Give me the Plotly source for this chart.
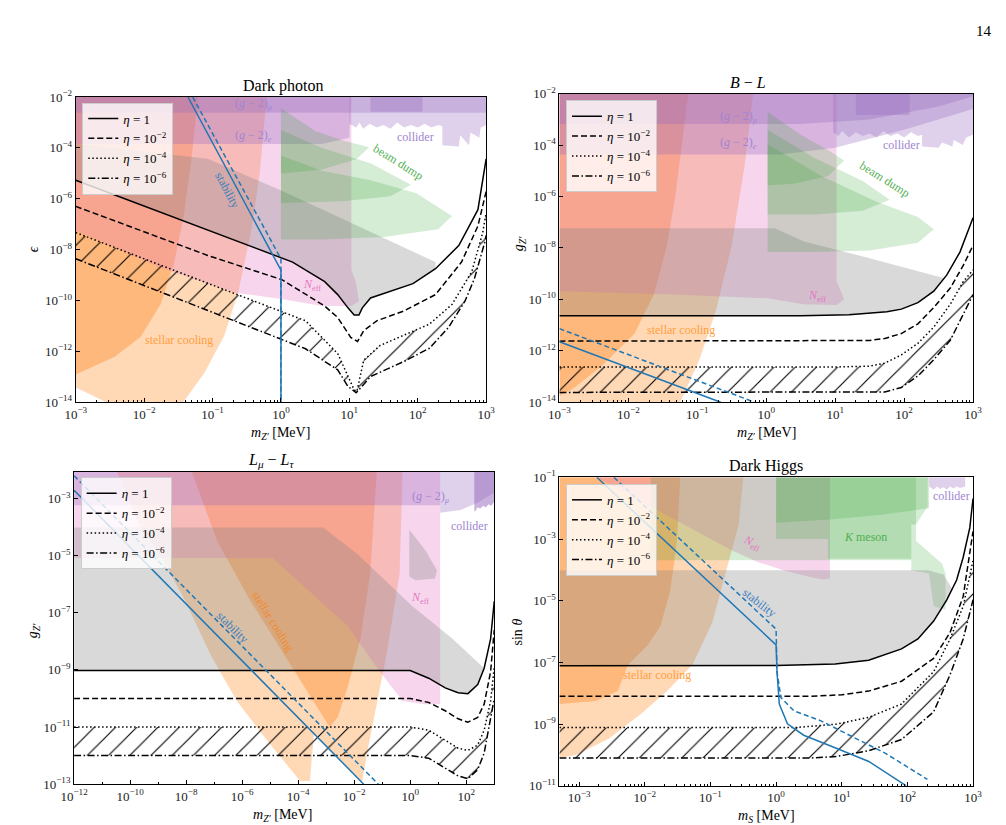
import numpy as np
import plotly.graph_objects as go

W, H = 1006, 825
SERIF = "Liberation Serif"

# ---------------------------------------------------------------------------
# data, in log10 units: (log10 m [MeV], log10 coupling)
# ---------------------------------------------------------------------------
eta_names = ["<i>η</i> = 1", "<i>η</i> = 10<sup>−2</sup>",
             "<i>η</i> = 10<sup>−4</sup>", "<i>η</i> = 10<sup>−6</sup>"]

# --- Dark photon ---
dp_eta1 = [(-3, -5.27), (-0.12, -8.17), (0.17, -8.49), (0.64, -9.26), (0.83, -9.77),
           (0.98, -10.29), (1.07, -10.57), (1.14, -10.57), (1.19, -10.29), (1.31, -9.90),
           (1.6, -9.64), (1.93, -9.34), (2.26, -8.75), (2.6, -7.84), (2.88, -6.43), (3.0, -4.43)]
dp_eta2 = [(-3, -6.30), (-1.07, -8.23), (0.02, -9.19), (0.36, -9.77), (0.64, -10.22),
           (0.83, -10.67), (1.02, -11.45), (1.12, -11.61), (1.21, -11.19), (1.4, -10.80),
           (1.79, -10.42), (2.26, -9.77), (2.64, -8.49), (2.88, -7.07), (3.0, -5.71)]
dp_eta4 = [(-3, -7.33), (0.36, -10.80), (0.83, -12.09), (0.98, -12.99), (1.07, -13.51),
           (1.11, -13.58), (1.21, -12.35), (1.45, -11.77), (1.79, -11.38), (2.17, -10.93),
           (2.5, -10.16), (2.79, -8.87), (2.95, -7.33), (3.0, -6.56)]
dp_eta6 = [(-3, -8.36), (0.36, -11.90), (0.83, -12.73), (0.98, -13.38), (1.1, -13.63),
           (1.17, -13.43), (1.31, -12.99), (1.5, -12.76), (1.79, -12.41), (2.17, -11.88),
           (2.45, -11.06), (2.69, -10.03), (2.83, -9.13), (2.98, -7.71), (3.0, -7.44)]
dp_stab = [(-1.36, -2), (0.0, -8.81), (0.0, -14)]
dp_stab_d = [(-1.29, -2), (0.0, -8.36), (0.0, -14)]
dp_peach = [(-3, -2), (-3, -13.42), (-2.55, -14), (-1.43, -14), (-1.12, -12.85), (-0.83, -11.4),
            (-0.62, -9.64), (-0.43, -7.2), (-0.31, -5.0), (-0.21, -2)]
dp_orange = [(-3, -2), (-3, -12.91), (-2.43, -12.21), (-2.05, -11.43), (-1.76, -10.15),
             (-1.57, -8.61), (-1.43, -6.81), (-1.31, -4.49), (-1.21, -2)]
dp_neff = [(-3, -2), (-3, -7.25), (-1.79, -8.68), (-0.67, -9.7), (0.03, -9.95), (0.6, -10.22),
           (1.03, -10.22), (1.14, -10.03), (1.1, -9.3), (1.03, -8.8), (1.03, -2)]
dp_gray = [(-3, -3.85), (-1.07, -4.43), (0.03, -5.71), (2.26, -8.49), (2.26, -8.75),
           (1.93, -9.34), (1.6, -9.64), (1.31, -9.90), (1.19, -10.29), (1.14, -10.57),
           (1.07, -10.57), (0.98, -10.29), (0.83, -9.77), (0.64, -9.26), (0.17, -8.49),
           (-0.12, -8.17), (-3, -5.27)]
dp_gm2mu = [(-3, -2), (-3, -2.62), (3, -2.62), (3, -2)]
dp_gm2e = [(-3, -2), (-3, -3.85), (0.6, -3.85), (1.0, -3.6), (1.02, -2)]
dp_bd1 = [(0, -2.44), (0.5, -3.34), (0.93, -3.73), (1.29, -3.98), (1.1, -4.45), (0.6, -4.85), (0, -5.01)]
dp_bd2 = [(0, -3.3), (0.6, -4.0), (1.31, -4.6), (1.9, -5.45), (1.6, -5.9), (0.9, -6.1), (0, -6.17)]
dp_bd3 = [(0, -4.3), (0.6, -4.9), (1.31, -5.27), (1.98, -5.78), (2.5, -6.68), (2.3, -7.2),
          (1.5, -7.5), (0.6, -7.6), (0, -7.6)]
dp_col = [(1.0, -2), (1.0, -3.05), (1.1, -3.2), (1.15, -3.0), (1.2, -3.25), (1.3, -3.05),
          (1.4, -3.2), (1.5, -3.1), (1.6, -3.25), (1.7, -3.0), (1.8, -3.2), (1.9, -3.1),
          (2.0, -3.2), (2.1, -3.05), (2.2, -3.2), (2.3, -3.1), (2.36, -3.15), (2.36, -3.9),
          (2.6, -3.95), (2.62, -3.5), (2.75, -3.9), (2.77, -3.4), (2.9, -3.6), (2.92, -3.2),
          (3.0, -3.1), (3.0, -2)]
dp_col_dk = [(1.31, -2), (1.31, -2.58), (2.07, -2.58), (2.07, -2)]

# --- B - L ---
bl_eta1 = [(-3, -10.635), (0.5, -10.635), (1.2, -10.6), (1.5, -10.55), (1.75, -10.48),
           (1.96, -10.38), (2.2, -10.13), (2.43, -9.68), (2.62, -9.05), (2.81, -8.16),
           (2.9, -7.52), (3.0, -6.83)]
bl_eta2 = [(-3, -11.625), (0.8, -11.625), (1.5, -11.6), (1.72, -11.52), (1.96, -11.33),
           (2.2, -10.95), (2.43, -10.32), (2.67, -9.56), (2.86, -8.67), (3.0, -7.9)]
bl_eta4 = [(-3, -12.63), (1.0, -12.63), (1.5, -12.6), (1.72, -12.48), (1.96, -12.16),
           (2.2, -11.71), (2.43, -11.08), (2.67, -10.19), (2.86, -9.3), (3.0, -8.86)]
bl_eta6 = [(-3, -13.62), (1.2, -13.62), (1.72, -13.6), (1.96, -13.43), (2.2, -12.98),
           (2.43, -12.35), (2.67, -11.59), (2.86, -10.57), (3.0, -9.81)]
bl_stab = [(-3, -11.65), (-0.66, -14)]
bl_stab_d = [(-3, -11.14), (-0.17, -14)]
bl_peach = [(-3, -2), (-3, -14), (-1.25, -14), (-0.97, -12.35), (-0.73, -10.44),
            (-0.5, -7.9), (-0.31, -4.73), (-0.19, -2)]
bl_orange = [(-3, -2), (-1.13, -2), (-1.23, -4.1), (-1.32, -6.0), (-1.44, -7.9), (-1.63, -9.81),
             (-1.91, -11.33), (-2.39, -12.6), (-2.81, -13.49), (-3, -13.75)]
bl_neff = [(-3, -2), (-3, -9.68), (-1.35, -9.81), (0.02, -9.96), (0.54, -10.19), (1.02, -10.22),
           (1.13, -10.0), (1.02, -9.3), (1.02, -2)]
bl_gray = [(-3, -7.23), (0.12, -7.23), (0.55, -7.75), (1.5, -8.4), (2.57, -9.17), (2.43, -9.68),
           (2.2, -10.13), (1.96, -10.38), (1.75, -10.48), (1.5, -10.55), (1.2, -10.6),
           (0.5, -10.635), (-3, -10.635)]
bl_gm2mu = [(-3, -2), (-3, -3.18), (0.5, -3.18), (1.5, -3.0), (2.5, -2.5), (3, -2.1), (3, -2)]
bl_gm2e = [(-3, -2), (-3, -4.37), (0.2, -4.37), (1.0, -4.1), (2.0, -3.4), (3, -2.6), (3, -2)]
bl_bd1 = [(0.02, -2.7), (0.5, -3.6), (0.9, -4.2), (1.13, -4.6), (0.9, -5.2), (0.4, -5.5), (0.02, -5.56)]
bl_bd2 = [(0.02, -3.4), (0.7, -4.5), (1.4, -5.4), (1.79, -6.13), (1.4, -6.55), (0.7, -6.7), (0.02, -6.7)]
bl_bd3 = [(0.02, -3.97), (0.8, -5.2), (1.6, -6.2), (2.2, -6.8), (2.43, -7.27), (2.2, -7.8),
          (1.5, -8.1), (0.7, -8.16), (0.02, -8.16)]
bl_col = [(0.97, -2), (0.97, -3.5), (1.05, -3.65), (1.1, -3.45), (1.2, -3.7), (1.3, -3.5),
          (1.4, -3.65), (1.5, -3.55), (1.6, -3.7), (1.7, -3.45), (1.8, -3.65), (1.9, -3.55),
          (2.0, -3.7), (2.1, -3.5), (2.2, -3.65), (2.26, -3.6), (2.26, -4.05), (2.5, -4.1),
          (2.55, -3.9), (2.7, -4.05), (2.72, -3.8), (2.85, -4.0), (2.9, -3.7), (3.0, -3.6), (3.0, -2)]
bl_col_dk = [(1.30, -2), (1.30, -2.83), (2.08, -2.83), (2.08, -2)]

# --- L_mu - L_tau ---
lm_eta1 = [(-12, -9.02), (0, -9.02), (0.66, -9.29), (1.25, -9.63), (1.71, -9.80), (2.06, -9.83),
           (2.41, -9.51), (2.64, -8.94), (2.87, -7.91), (3.0, -6.6)]
lm_eta2 = [(-12, -10.0), (0, -10.0), (0.66, -10.14), (1.25, -10.43), (1.71, -10.71),
           (2.06, -10.83), (2.41, -10.66), (2.64, -10.2), (2.87, -9.06), (3.0, -7.6)]
lm_eta4 = [(-12, -11.0), (0, -11.0), (0.66, -11.11), (1.25, -11.46), (1.71, -11.74),
           (2.06, -11.82), (2.41, -11.63), (2.64, -11.11), (2.87, -10.09), (3.0, -8.9)]
lm_eta6 = [(-12, -12.0), (0, -12.0), (0.66, -12.09), (1.25, -12.43), (1.71, -12.71),
           (2.06, -12.81), (2.41, -12.49), (2.64, -11.91), (2.87, -10.77), (3.0, -10.0)]
lm_stab = [(-12, -2.71), (-1.66, -13)]
lm_stab_d = [(-12, -2.2), (-1.14, -13)]
lm_peach = [(-10.49, -2), (-9.68, -3.91), (-8.86, -5.08), (-8.05, -6.54), (-7.12, -8.49),
            (-6.19, -10.09), (-5.03, -11.57), (-3.93, -12.89), (-3.58, -12.89), (-3.44, -11.23),
            (-3.34, -11.34), (-2.47, -12.2), (-1.72, -12.94), (-1.54, -11.91), (-1.31, -10.77),
            (-0.85, -8.49), (-0.38, -5.63), (-0.27, -2)]
lm_orange = [(-7.82, -2), (-6.89, -4.49), (-5.73, -6.54), (-4.56, -8.37), (-3.40, -10.2),
             (-2.88, -11.0), (-2.59, -10.66), (-2.24, -9.63), (-1.78, -7.91), (-1.43, -5.63),
             (-1.19, -2)]
lm_neff = [(-12, -2), (-12, -5.08), (-4.91, -5.08), (-2.24, -7.46), (-1.08, -9.06),
           (-0.27, -10.09), (0.5, -10.2), (1.07, -10.2), (1.07, -2)]
lm_gray = [(-12, -4.01), (-3.11, -4.01), (-1.89, -4.94), (0.08, -6.77), (1.5, -7.9), (2.64, -8.94),
           (2.41, -9.51), (2.06, -9.83), (1.71, -9.80), (1.25, -9.63), (0.66, -9.29), (0, -9.02),
           (-12, -9.02)]
lm_gray_lobe = [(-0.03, -4.09), (0.55, -4.83), (0.95, -5.51), (0.89, -5.80), (0.2, -5.86), (-0.03, -5.74)]
lm_gm2mu = [(-12, -2), (-12, -3.23), (1.07, -3.23), (1.07, -3.5), (1.8, -3.4), (2.4, -3.15),
            (3, -2.8), (3, -2)]
lm_col = [(2.29, -2), (2.29, -3.46), (2.35, -3.4), (2.4, -3.3), (2.5, -3.35), (2.6, -3.25),
          (2.7, -3.3), (2.8, -3.2), (2.9, -3.25), (3.0, -3.1), (3.0, -2)]

# --- Dark Higgs ---
dh_eta1 = [(-3.3, -7.11), (0, -7.1), (0.9, -7.05), (1.41, -6.93), (1.91, -6.56), (2.16, -6.24),
           (2.4, -5.66), (2.6, -4.97), (2.75, -4.33), (2.85, -3.59), (2.95, -2.64), (3.0, -1.69)]
dh_eta2 = [(-3.3, -8.1), (0.5, -8.1), (1.0, -8.05), (1.41, -7.93), (1.91, -7.61), (2.4, -6.87),
           (2.65, -6.03), (2.85, -4.86), (3.0, -2.75)]
dh_eta4 = [(-3.3, -9.11), (0.3, -9.11), (0.92, -9.0), (1.41, -8.78), (1.91, -8.35), (2.4, -7.3),
           (2.65, -6.24), (2.85, -5.18), (3.0, -3.7)]
dh_eta6 = [(-3.3, -10.1), (0.5, -10.1), (0.92, -10.05), (1.41, -9.86), (1.91, -9.5), (2.4, -8.6),
           (2.65, -7.4), (2.85, -6.24), (3.0, -4.97)]
dh_stab = [(-2.73, -1), (0.0, -6.43), (0.014, -7.30), (0.049, -8.35), (0.173, -8.99),
           (0.421, -9.36), (0.917, -9.78), (1.412, -10.21), (1.983, -11.0)]
dh_stab_d = [(-2.47, -1), (0.0, -5.92), (0.014, -7.30), (0.074, -8.14), (0.272, -8.57),
             (0.669, -8.88), (1.165, -9.41), (1.660, -9.94), (2.305, -10.79)]
dh_peach = [(-3.3, -1), (-0.5, -1), (-0.57, -2.53), (-0.77, -4.12), (-0.97, -5.7), (-1.27, -7.07),
            (-1.66, -7.93), (-2.06, -8.67), (-2.55, -9.47), (-3.05, -10.0), (-3.3, -10.1)]
dh_orange = [(-3.3, -1), (-1.46, -1), (-1.51, -3.06), (-1.61, -4.65), (-1.76, -5.82), (-1.96, -6.45),
             (-2.26, -7.09), (-2.41, -7.93), (-2.75, -8.25), (-3.3, -8.35)]
dh_neff = [(-2.74, -1), (-1.36, -2.58), (-0.67, -3.37), (-0.27, -3.75), (0.12, -4.02),
           (0.52, -4.23), (0.72, -4.31), (0.82, -4.28), (0.82, -1)]
dh_gray = [(-3.3, -4.01), (2.31, -4.01), (2.55, -4.15), (2.68, -4.6), (2.6, -4.97), (2.4, -5.66),
           (2.16, -6.24), (1.91, -6.56), (1.41, -6.93), (0.9, -7.05), (0, -7.1), (-3.3, -7.11)]
dh_green = [(-1.91, -1), (2.31, -1), (2.31, -1.95), (2.13, -2.53), (2.13, -3.06), (2.33, -3.43),
            (2.53, -3.8), (2.58, -4.12), (2.58, -5.29), (2.4, -5.18), (2.33, -4.12),
            (2.06, -4.02), (2.06, -3.69), (-1.91, -3.69)]
dh_k1 = [(0, -1), (2.33, -1), (2.33, -2.0), (1.61, -2.21), (0.82, -2.37), (0, -2.47)]
dh_k2 = [(0.79, -1), (2.13, -1), (2.13, -2.53), (2.06, -2.53), (2.06, -3.64), (0.79, -3.64)]
dh_k3 = [(0, -1), (0.79, -1), (0.79, -3.0), (0, -3.0)]
dh_col = [(2.33, -1), (2.33, -1.3), (2.4, -1.4), (2.45, -1.3), (2.5, -1.38), (2.55, -1.32),
          (2.6, -1.4), (2.65, -1.3), (2.7, -1.36), (2.75, -1.3), (2.8, -1.35), (2.88, -1.3), (2.88, -1)]

# tick exponents
dp_xticks = [-3, -2, -1, 0, 1, 2, 3]
dp_yticks = [-14, -12, -10, -8, -6, -4, -2]
lm_xticks = [-12, -10, -8, -6, -4, -2, 0, 2]
lm_yticks = [-13, -11, -9, -7, -5, -3]
dh_xticks = [-3, -2, -1, 0, 1, 2, 3]
dh_yticks = [-11, -9, -7, -5, -3, -1]

# ---------------------------------------------------------------------------
ORANGE = "rgba(255,127,14,0.30)"
ORANGE_DK = "rgba(255,127,14,0.35)"
PINK = "rgba(227,119,194,0.30)"
GRAY = "rgba(128,128,128,0.30)"
PURPLE = "rgba(148,103,189,0.30)"
GREEN = "rgba(44,160,44,0.20)"
BLUE = "#1f77b4"
DASHES = ["solid", "6px,3px", "1.5px,2.5px", "7px,2.5px,1.5px,2.5px"]

XA = ["x", "x2", "x3", "x4"]
YA = ["y", "y2", "y3", "y4"]
LEG = ["legend", "legend2", "legend3", "legend4"]

fig = go.Figure()


def pts(p):
    a = np.array(p, dtype=float)
    return 10 ** a[:, 0], 10 ** a[:, 1]


def region(p, color, n):
    x, y = pts(p)
    fig.add_trace(go.Scatter(x=x, y=y, mode="lines", fill="toself", fillcolor=color,
                             line=dict(width=0), hoverinfo="skip", showlegend=False,
                             xaxis=XA[n], yaxis=YA[n]))


def curve(p, n, color="black", dash="solid", width=1.5, name=None):
    x, y = pts(p)
    fig.add_trace(go.Scatter(x=x, y=y, mode="lines",
                             line=dict(color=color, dash=dash, width=width),
                             name=name, showlegend=name is not None, legend=LEG[n],
                             hoverinfo="skip", xaxis=XA[n], yaxis=YA[n]))


def hatch(upper, lower, n):
    x1, y1 = pts(upper)
    x2, y2 = pts(lower)
    fig.add_trace(go.Scatter(x=np.r_[x1, x2[::-1]], y=np.r_[y1, y2[::-1]], mode="lines",
                             fill="toself", fillcolor="black",
                             fillpattern=dict(shape="/", fgcolor="black", fgopacity=1,
                                              bgcolor="rgba(255,255,255,0)", size=15,
                                              solidity=0.075),
                             line=dict(width=0), hoverinfo="skip", showlegend=False,
                             xaxis=XA[n], yaxis=YA[n]))


def panel(n, peach, orange, neff, gray, etas, stab, stab_d, extra_under, extra_over):
    region(peach, ORANGE, n)
    region(orange, ORANGE_DK, n)
    region(neff, PINK, n)
    for p, c in extra_under:
        region(p, c, n)
    region(gray, GRAY, n)
    for p, c in extra_over:
        region(p, c, n)
    hatch(etas[2], etas[3], n)
    for i, e in enumerate(etas):
        curve(e, n, dash=DASHES[i], name=eta_names[i])
    curve(stab, n, color=BLUE, width=1.5)
    curve(stab_d, n, color=BLUE, dash="5px,3px", width=1.5)


panel(0, dp_peach, dp_orange, dp_neff, dp_gray, [dp_eta1, dp_eta2, dp_eta4, dp_eta6],
      dp_stab, dp_stab_d, [],
      [(dp_gm2mu, PURPLE), (dp_gm2e, PURPLE), (dp_bd3, GREEN), (dp_bd2, GREEN),
       (dp_bd1, GREEN), (dp_col, PURPLE), (dp_col_dk, PURPLE)])
panel(1, bl_peach, bl_orange, bl_neff, bl_gray, [bl_eta1, bl_eta2, bl_eta4, bl_eta6],
      bl_stab, bl_stab_d, [],
      [(bl_gm2mu, PURPLE), (bl_gm2e, PURPLE), (bl_bd3, GREEN), (bl_bd2, GREEN),
       (bl_bd1, GREEN), (bl_col, PURPLE), (bl_col_dk, PURPLE)])
panel(2, lm_peach, lm_orange, lm_neff, lm_gray, [lm_eta1, lm_eta2, lm_eta4, lm_eta6],
      lm_stab, lm_stab_d, [],
      [(lm_gray_lobe, GRAY), (lm_gm2mu, PURPLE), (lm_col, PURPLE), (lm_col, PURPLE)])
panel(3, dh_peach, dh_orange, dh_neff, dh_gray, [dh_eta1, dh_eta2, dh_eta4, dh_eta6],
      dh_stab, dh_stab_d, [(dh_green, GREEN)],
      [(dh_k3, GREEN), (dh_k1, GREEN), (dh_k2, GREEN), (dh_col, PURPLE)])


def tick_text(e):
    return "10<sup>" + ("−" if e < 0 else "") + str(abs(e)) + "</sup>"


def axis(dom, rng, major, minor, anchor):
    return dict(type="log", domain=dom, range=rng, anchor=anchor,
                tickmode="array", tickvals=[10.0 ** e for e in major],
                ticktext=[tick_text(e) for e in major],
                ticks="inside", ticklen=4, tickwidth=1, tickcolor="black",
                minor=dict(tickmode="array", tickvals=minor, ticks="inside", ticklen=2,
                           tickwidth=0.8, tickcolor="black", showgrid=False),
                showline=True, linecolor="black", linewidth=1, mirror=True,
                showgrid=False, zeroline=False,
                tickfont=dict(family=SERIF, size=13, color="#222"))


def minors(lo, hi):
    return [k * 10.0 ** e for e in range(lo, hi) for k in range(2, 10)]


def xd(a, b):
    return [a / W, b / W]


def yd(top, bottom):
    return [1 - bottom / H, 1 - top / H]


legend_style = dict(bgcolor="rgba(255,255,255,0.8)", bordercolor="#cccccc", borderwidth=1,
                    font=dict(family=SERIF, size=13, color="black"), xanchor="left",
                    yanchor="top", tracegroupgap=0, itemwidth=30)

fig.update_layout(
    width=W, height=H, margin=dict(l=0, r=0, t=0, b=0),
    paper_bgcolor="white", plot_bgcolor="white",
    xaxis=axis(xd(55, 475), [-3, 3], dp_xticks, minors(-3, 3), "y"),
    yaxis=axis(yd(81.7, 393.3), [-14, -2], dp_yticks, [], "x"),
    xaxis2=axis(xd(550, 973.3), [-3, 3], dp_xticks, minors(-3, 3), "y2"),
    yaxis2=axis(yd(78.3, 393.3), [-14, -2], dp_yticks, [], "x2"),
    xaxis3=axis(xd(53.3, 483.3), [-12, 3], lm_xticks, [10.0 ** e for e in range(-11, 3, 2)], "y3"),
    yaxis3=axis(yd(464.3, 783.3), [-13, -2.06], lm_yticks, [], "x3"),
    xaxis4=axis(xd(550, 973.3), [-3.3, 3], dh_xticks, minors(-4, 3), "y4"),
    yaxis4=axis(yd(470, 785), [-11, -1], dh_yticks, [], "x4"),
    legend=dict(x=61.7 / W, y=1 - 87.3 / H, **legend_style),
    legend2=dict(x=556.7 / W, y=1 - 85 / H, **legend_style),
    legend3=dict(x=60 / W, y=1 - 470 / H, **legend_style),
    legend4=dict(x=556.7 / W, y=1 - 476.7 / H, **legend_style),
)


def label(text, px, py, color="black", angle=0, size=12):
    fig.add_annotation(text=text, x=px / W, y=1 - py / H, xref="paper", yref="paper",
                       showarrow=False, textangle=angle, xanchor="center", yanchor="middle",
                       font=dict(family=SERIF, size=size, color=color))


C_PUR = "#a184d2"
C_GRN = "#4fb04f"
C_PNK = "#e377c2"
C_ORG = "#ff9f40"
C_BLU = "#3a80bd"

# Dark photon
label("(<i>g</i> − 2)<sub><i>μ</i></sub>", 236.7, 89.3, C_PUR)
label("(<i>g</i> − 2)<sub><i>e</i></sub>", 236.7, 121, C_PUR)
label("collider", 402.3, 122.3, C_PUR)
label("beam dump", 385, 148.3, C_GRN, 32)
label("<i>N</i><sub>eff</sub>", 296.7, 273.3, C_PNK)
label("stellar cooling", 161, 330, C_ORG)
label("stability", 210, 176.7, C_BLU, 62)
# B - L
label("(<i>g</i> − 2)<sub><i>μ</i></sub>", 733.3, 101.7, C_PUR)
label("(<i>g</i> − 2)<sub><i>e</i></sub>", 733.3, 128.3, C_PUR)
label("collider", 900, 131, C_PUR)
label("beam dump", 882.7, 165, C_GRN, 32)
label("<i>N</i><sub>eff</sub>", 814, 285, C_PNK)
label("stellar cooling", 674.3, 319.3, C_ORG)
# L_mu - L_tau
label("(<i>g</i> − 2)<sub><i>μ</i></sub>", 418.3, 490, C_PUR)
label("collider", 458.3, 519.3, C_PUR)
label("<i>N</i><sub>eff</sub>", 407.3, 593.3, C_PNK)
label("stellar cooling", 256.7, 616.7, "#f08a30", 58)
label("stability", 215, 623.3, C_BLU, 45)
# Dark Higgs
label("collider", 951.7, 489, C_PUR)
label("<i>K</i> meson", 863.3, 530.7, C_GRN)
label("<i>N</i><sub>eff</sub>", 746.7, 536.7, C_PNK, 25)
label("stability", 755, 598.3, C_BLU, 38)
label("stellar cooling", 650, 672.3, C_ORG)

# titles and axis labels
label("Dark photon", 267, 70, size=16)
label("<i>B</i> − <i>L</i>", 743, 66.7, size=16)
label("<i>L</i><sub><i>μ</i></sub> − <i>L</i><sub><i>τ</i></sub>", 255, 453.3, size=16)
label("Dark Higgs", 761, 458.3, size=16)
label("<i>m</i><sub><i>Z′</i></sub> [MeV]", 265, 425, size=14)
label("<i>m</i><sub><i>Z′</i></sub> [MeV]", 761.7, 425, size=14)
label("<i>m</i><sub><i>Z′</i></sub> [MeV]", 266.7, 815, size=14)
label("<i>m</i><sub><i>S</i></sub> [MeV]", 761.7, 816, size=14)
label("<i>ϵ</i>", 11.7, 236.7, angle=-90, size=14)
label("<i>g</i><sub><i>Z′</i></sub>", 510, 231.7, angle=-90, size=14)
label("<i>g</i><sub><i>Z′</i></sub>", 11.7, 626.7, angle=-90, size=14)
label("sin <i>θ</i>", 506.7, 628.3, angle=-90, size=14)
label("14", 985, 14, size=15)

fig.write_html("out.html")
